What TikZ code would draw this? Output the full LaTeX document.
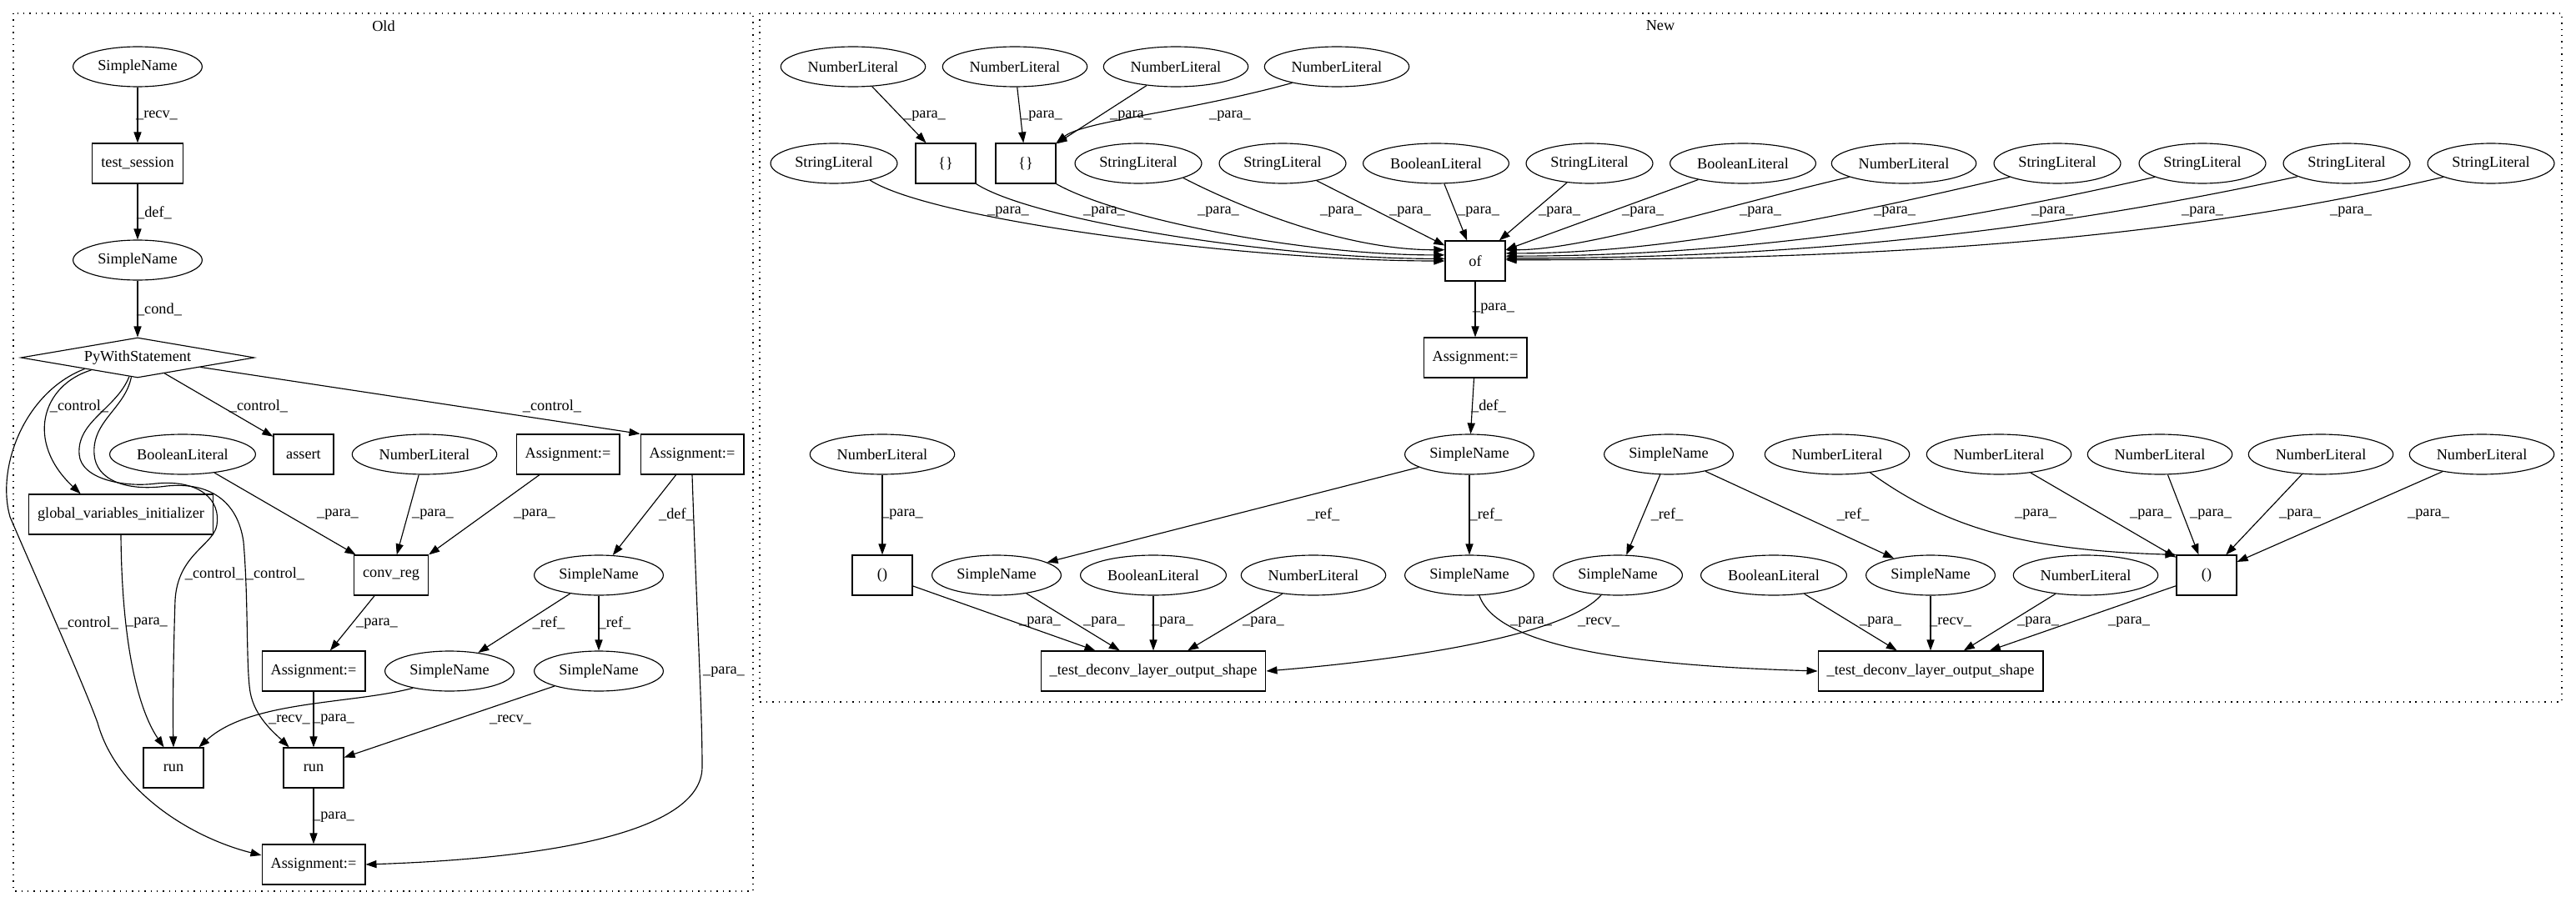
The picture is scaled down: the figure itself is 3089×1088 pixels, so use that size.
\documentclass[tikz,border=0pt]{standalone}
\usepackage{fontspec}
\setmainfont{Liberation Serif}
\usepackage{tikz}
\usetikzlibrary{arrows.meta,calc,shapes.geometric}
\definecolor{Ink}{HTML}{000000}
\newcommand{\edgetag}[1]{\_#1\_}
\tikzset{
  astLeaf/.style={ellipse,draw=Ink,line width=.65pt,inner xsep=4pt,inner ysep=1pt,minimum height=.96cm},
  astCall/.style={rectangle,draw=Ink,line width=.7pt,inner xsep=6pt,minimum width=1.44cm,minimum height=.96cm},
  astWith/.style={diamond,draw=Ink,line width=.65pt,aspect=6,inner sep=0pt,minimum width=5.6cm,minimum height=.96cm},
  astEdge/.style={-{Triangle[length=7.4pt,width=5.2pt]},draw=Ink,line width=.65pt},
  edgeTag/.style={inner sep=0pt,text=Ink},
  clusterFrame/.style={draw=Ink,line width=.8pt,dash pattern=on .8pt off 3.4pt}
}

\begin{document}
\begin{tikzpicture}[x=.02cm,y=-.02cm,font=\fontsize{10.4}{12.5}\selectfont]
  \useasboundingbox (0,0) rectangle (3089,1088);
  % Cluster frames
  \draw[clusterFrame] (16,16) rectangle (903,1069);
  \draw[clusterFrame] (911,16) rectangle (3072,842);
  \node (oldTitle) at (460,31) {Old};
  \node (newTitle) at (1991,31) {New};

  % Old: session and with statement
  \node[astLeaf] (oSn1) at (165,80) {SimpleName};
  \node[astCall] (oTest) at (165,196) {test\_session};
  \node[astLeaf] (oSn2) at (165,312) {SimpleName};
  \node[astWith] (oWith) at (165,429) {PyWithStatement};
  \node[astLeaf] (oBool) at (219,545) {BooleanLiteral};
  \node[astCall] (oAssert) at (364,545) {assert};
  \node[astLeaf] (oNum) at (509,545) {NumberLiteral};
  \node[astCall] (oAsgA) at (681,545) {Assignment:=};
  \node[astCall] (oAsgB) at (830,545) {Assignment:=};
  \node[astCall] (oInit) at (145,617) {global\_variables\_initializer};
  \node[astCall] (oConv) at (469,690) {conv\_reg};
  \node[astLeaf] (oSn3) at (718,690) {SimpleName};
  \node[astCall] (oAsgC) at (376,805) {Assignment:=};
  \node[astLeaf] (oSn4) at (539,805) {SimpleName};
  \node[astLeaf] (oSn5) at (718,805) {SimpleName};
  \node[astCall] (oRunA) at (208,921) {run};
  \node[astCall] (oRunB) at (376,921) {run};
  \node[astCall] (oAsgD) at (376,1037) {Assignment:=};

  \draw[astEdge] (oSn1)--(oTest) node[edgeTag] at (188,138) {\edgetag{recv}};
  \draw[astEdge] (oTest)--(oSn2) node[edgeTag] at (185,255) {\edgetag{def}};
  \draw[astEdge] (oSn2)--(oWith) node[edgeTag] at (191,371) {\edgetag{cond}};

  % Old: control edges
  \draw[astEdge] (oWith)--(oAssert) node[edgeTag] at (310,487) {\edgetag{control}};
  \draw[astEdge] (oWith)--(oAsgB.north west) node[edgeTag] at (662,487) {\edgetag{control}};
  \draw[astEdge] (oWith.195) .. controls (50,462) and (30,530) .. (oInit.153) node[edgeTag] at (95,487) {\edgetag{control}};
  \draw[astEdge] (oWith.192) .. controls (30,470) and (-5,560) .. (12,620) .. controls (42,690) and (100,820) .. (117,867)
    .. controls (140,950) and (230,1005) .. (oAsgD.170) node[edgeTag] at (107,747) {\edgetag{control}};
  \draw[astEdge] (oWith.246) .. controls (140,490) and (92,505) .. (95,545) .. controls (97,575) and (150,585) .. (187,580)
    .. controls (240,575) and (265,600) .. (260,630) .. controls (256,654) and (213,665) .. (210,720)
    .. controls (208,780) and (207,850) .. (oRunA.north) node[edgeTag] at (257,688) {\edgetag{control}};
  \draw[astEdge] (oWith.252) .. controls (150,490) and (110,505) .. (113,545) .. controls (115,575) and (150,590) .. (200,583)
    .. controls (250,578) and (285,600) .. (292,650) .. controls (298,720) and (295,800) .. (300,830)
    .. controls (305,860) and (330,880) .. (oRunB.140) node[edgeTag] at (330,688) {\edgetag{control}};

  % Old: data edges
  \draw[astEdge] (oBool)--(oConv) node[edgeTag] at (405,617) {\edgetag{para}};
  \draw[astEdge] (oNum)--(oConv) node[edgeTag] at (519,617) {\edgetag{para}};
  \draw[astEdge] (oAsgA)--(oConv.north east) node[edgeTag] at (641,617) {\edgetag{para}};
  \draw[astEdge] (oAsgB)--(oSn3.55) node[edgeTag] at (811,617) {\edgetag{def}};
  \draw[astEdge] (oAsgB.south) .. controls (836,750) and (842,850) .. (842,920) .. controls (842,1000) and (650,1030) .. (oAsgD.east)
    node[edgeTag] at (868,806) {\edgetag{para}};
  \draw[astEdge] (oInit.south) .. controls (146,770) and (165,850) .. (oRunA.115) node[edgeTag] at (176,747) {\edgetag{para}};
  \draw[astEdge] (oConv)--(oAsgC) node[edgeTag] at (452,748) {\edgetag{para}};
  \draw[astEdge] (oSn3)--(oSn4) node[edgeTag] at (658,747) {\edgetag{ref}};
  \draw[astEdge] (oSn3)--(oSn5) node[edgeTag] at (737,747) {\edgetag{ref}};
  \draw[astEdge] (oSn4.205) .. controls (420,845) and (300,840) .. (oRunA.39) node[edgeTag] at (347,863) {\edgetag{recv}};
  \draw[astEdge] (oAsgC)--(oRunB) node[edgeTag] at (400,863) {\edgetag{para}};
  \draw[astEdge] (oSn5)--(oRunB) node[edgeTag] at (612,863) {\edgetag{recv}};
  \draw[astEdge] (oRunB)--(oAsgD) node[edgeTag] at (400,980) {\edgetag{para}};

  % New: literals feeding of
  \node[astLeaf] (nNum1) at (1023,80) {NumberLiteral};
  \node[astLeaf] (nNum2) at (1217,80) {NumberLiteral};
  \node[astLeaf] (nNum3) at (1410,80) {NumberLiteral};
  \node[astLeaf] (nNum4) at (1603,80) {NumberLiteral};
  \node[astLeaf] (nStr1) at (1000,196) {StringLiteral};
  \node[astCall] (nSet1) at (1134,196) {\{\}};
  \node[astCall] (nSet2) at (1230,196) {\{\}};
  \node[astLeaf] (nStr2) at (1365,196) {StringLiteral};
  \node[astLeaf] (nStr3) at (1538,196) {StringLiteral};
  \node[astLeaf] (nBool1) at (1722,196) {BooleanLiteral};
  \node[astLeaf] (nStr4) at (1906,196) {StringLiteral};
  \node[astLeaf] (nBool2) at (2090,196) {BooleanLiteral};
  \node[astLeaf] (nNum5) at (2283,196) {NumberLiteral};
  \node[astLeaf] (nStr5) at (2467,196) {StringLiteral};
  \node[astLeaf] (nStr6) at (2641,196) {StringLiteral};
  \node[astLeaf] (nStr7) at (2814,196) {StringLiteral};
  \node[astLeaf] (nStr8) at (2987,196) {StringLiteral};
  \node[astCall] (nOf) at (1769,313) {of};
  \node[astCall] (nAsg) at (1769,429) {Assignment:=};

  \draw[astEdge] (nNum1)--(nSet1) node[edgeTag] at (1109,139) {\edgetag{para}};
  \draw[astEdge] (nNum2)--(nSet2) node[edgeTag] at (1249,139) {\edgetag{para}};
  \draw[astEdge] (nNum3)--(nSet2) node[edgeTag] at (1356,139) {\edgetag{para}};
  \draw[astEdge] (nNum4.200) .. controls (1420,135) and (1300,145) .. (nSet2.north east) node[edgeTag] at (1475,139) {\edgetag{para}};
  \draw[astEdge] (nStr1.-25) .. controls (1120,265) and (1500,313) .. (nOf.west) node[edgeTag] at (1209,254) {\edgetag{para}};
  \draw[astEdge] (nSet1.south east) .. controls (1240,265) and (1530,310) .. (nOf.176) node[edgeTag] at (1324,254) {\edgetag{para}};
  \draw[astEdge] (nSet2.south east) .. controls (1340,262) and (1560,306) .. (nOf.169) node[edgeTag] at (1461,254) {\edgetag{para}};
  \draw[astEdge] (nStr2.-18) .. controls (1500,255) and (1620,300) .. (nOf.160) node[edgeTag] at (1608,254) {\edgetag{para}};
  \draw[astEdge] (nStr3)--(nOf) node[edgeTag] at (1691,254) {\edgetag{para}};
  \draw[astEdge] (nBool1)--(nOf) node[edgeTag] at (1773,254) {\edgetag{para}};
  \draw[astEdge] (nStr4)--(nOf) node[edgeTag] at (1870,254) {\edgetag{para}};
  \draw[astEdge] (nBool2)--(nOf) node[edgeTag] at (1970,254) {\edgetag{para}};
  \draw[astEdge] (nNum5.194) .. controls (2069,247) and (1900,300) .. (nOf.20) node[edgeTag] at (2111,254) {\edgetag{para}};
  \draw[astEdge] (nStr5.196) .. controls (2211,259) and (2000,304) .. (nOf.14) node[edgeTag] at (2272,254) {\edgetag{para}};
  \draw[astEdge] (nStr6.196) .. controls (2354,265) and (2100,307) .. (nOf.9) node[edgeTag] at (2461,254) {\edgetag{para}};
  \draw[astEdge] (nStr7.195) .. controls (2496,268) and (2200,310) .. (nOf.5) node[edgeTag] at (2641,254) {\edgetag{para}};
  \draw[astEdge] (nStr8.196) .. controls (2631,282) and (2300,312) .. (nOf.2) node[edgeTag] at (2819,254) {\edgetag{para}};
  \draw[astEdge] (nOf)--(nAsg) node[edgeTag] at (1791,370) {\edgetag{para}};

  % New: the two calls
  \node[astLeaf] (nNum6) at (1058,545) {NumberLiteral};
  \node[astLeaf] (nSn1) at (1762,545) {SimpleName};
  \node[astLeaf] (nSn2) at (2001,545) {SimpleName};
  \node[astLeaf] (nNum7) at (2203,545) {NumberLiteral};
  \node[astLeaf] (nNum8) at (2397,545) {NumberLiteral};
  \node[astLeaf] (nNum9) at (2590,545) {NumberLiteral};
  \node[astLeaf] (nNum10) at (2783,545) {NumberLiteral};
  \node[astLeaf] (nNum11) at (2976,545) {NumberLiteral};
  \node[astCall] (nTup1) at (1058,690) {()};
  \node[astLeaf] (nSn3) at (1195,690) {SimpleName};
  \node[astLeaf] (nBool3) at (1383,690) {BooleanLiteral};
  \node[astLeaf] (nNum12) at (1575,690) {NumberLiteral};
  \node[astLeaf] (nSn4) at (1762,690) {SimpleName};
  \node[astLeaf] (nSn5) at (1940,690) {SimpleName};
  \node[astLeaf] (nBool4) at (2127,690) {BooleanLiteral};
  \node[astLeaf] (nSn6) at (2315,690) {SimpleName};
  \node[astLeaf] (nNum13) at (2501,690) {NumberLiteral};
  \node[astCall] (nTup2) at (2646,690) {()};
  \node[astCall] (nTestA) at (1383,805) {\_test\_deconv\_layer\_output\_shape};
  \node[astCall] (nTestB) at (2315,805) {\_test\_deconv\_layer\_output\_shape};

  \draw[astEdge] (nAsg)--(nSn1) node[edgeTag] at (1785,487) {\edgetag{def}};
  \draw[astEdge] (nNum6)--(nTup1) node[edgeTag] at (1082,617) {\edgetag{para}};
  \draw[astEdge] (nSn1)--(nSn3) node[edgeTag] at (1587,617) {\edgetag{ref}};
  \draw[astEdge] (nSn1)--(nSn4) node[edgeTag] at (1782,617) {\edgetag{ref}};
  \draw[astEdge] (nSn2)--(nSn5) node[edgeTag] at (1999,617) {\edgetag{ref}};
  \draw[astEdge] (nSn2)--(nSn6) node[edgeTag] at (2222,617) {\edgetag{ref}};
  \draw[astEdge] (nNum7.-29) .. controls (2330,630) and (2420,660) .. (nTup2.north west) node[edgeTag] at (2441,617) {\edgetag{para}};
  \draw[astEdge] (nNum8)--(nTup2) node[edgeTag] at (2579,617) {\edgetag{para}};
  \draw[astEdge] (nNum9)--(nTup2) node[edgeTag] at (2651,617) {\edgetag{para}};
  \draw[astEdge] (nNum10)--(nTup2) node[edgeTag] at (2758,617) {\edgetag{para}};
  \draw[astEdge] (nNum11)--(nTup2) node[edgeTag] at (2912,617) {\edgetag{para}};

  \draw[astEdge] (nTup1)--(nTestA) node[edgeTag] at (1247,746) {\edgetag{para}};
  \draw[astEdge] (nSn3)--(nTestA) node[edgeTag] at (1324,746) {\edgetag{para}};
  \draw[astEdge] (nBool3)--(nTestA) node[edgeTag] at (1406,746) {\edgetag{para}};
  \draw[astEdge] (nNum12)--(nTestA) node[edgeTag] at (1515,746) {\edgetag{para}};
  \draw[astEdge] (nSn5.230) .. controls (1880,760) and (1700,790) .. (nTestA.east) node[edgeTag] at (1917,746) {\edgetag{recv}};
  \draw[astEdge] (nSn4.-64) .. controls (1795,775) and (1950,798) .. (nTestB.west) node[edgeTag] at (1836,746) {\edgetag{para}};
  \draw[astEdge] (nBool4)--(nTestB) node[edgeTag] at (2255,746) {\edgetag{para}};
  \draw[astEdge] (nSn6)--(nTestB) node[edgeTag] at (2339,746) {\edgetag{recv}};
  \draw[astEdge] (nNum13)--(nTestB) node[edgeTag] at (2444,746) {\edgetag{para}};
  \draw[astEdge] (nTup2)--(nTestB) node[edgeTag] at (2553,746) {\edgetag{para}};
\end{tikzpicture}
\end{document}
